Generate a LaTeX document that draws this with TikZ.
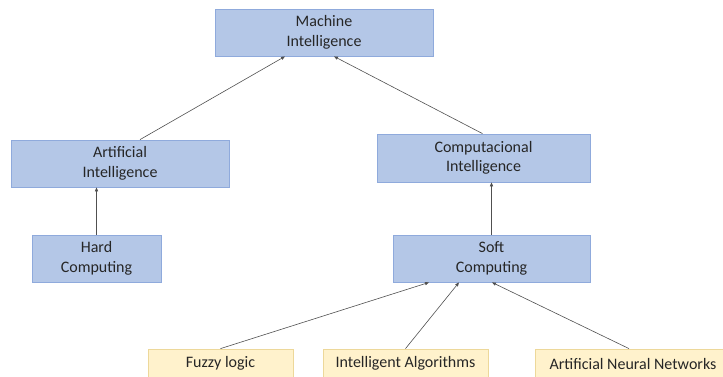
\documentclass[tikz,border=0pt]{standalone}
\usepackage{fontspec}
\setmainfont{Carlito}
\usetikzlibrary{arrows.meta}
\definecolor{bluefill}{HTML}{B4C7E7}
\definecolor{blueline}{HTML}{8FAADC}
\definecolor{yelfill}{HTML}{FFF2CC}
\definecolor{yelline}{HTML}{EDD89A}
\definecolor{arrowcol}{HTML}{505050}
\begin{document}
\begin{tikzpicture}[x=1pt,y=-1pt,
  bluebox/.style={draw=blueline,fill=bluefill,line width=0.8pt,minimum height=47pt,
    inner sep=0pt,align=center,font=\fontsize{16}{19.5}\selectfont,text=black!85},
  yelbox/.style={draw=yelline,fill=yelfill,line width=0.8pt,minimum height=29pt,
    inner sep=0pt,align=center,font=\fontsize{16}{19.5}\selectfont,text=black!85},
  conn/.style={draw=arrowcol,line width=0.6pt,-{Triangle[length=4pt,width=3.2pt]}}]
\useasboundingbox (0,0) rectangle (723,376);
\begin{scope}
\clip (0,0) rectangle (723,376);
\node[bluebox,minimum width=218pt] (MI) at (324,32.5) {Machine\\Intelligence};
\node[bluebox,minimum width=218pt] (AI) at (120,163.5) {Artificial\\Intelligence};
\node[bluebox,minimum width=129pt] (HC) at (96.5,258.5) {Hard\\Computing};
\node[bluebox,minimum width=213pt,minimum height=48pt] (CI) at (483.5,158) {Computacional\\Intelligence};
\node[bluebox,minimum width=197pt] (SC) at (491.5,258.5) {Soft\\Computing};
\node[yelbox,minimum width=145pt] (FL) at (220.5,363.5) {Fuzzy logic};
\node[yelbox,minimum width=165pt] (IA) at (405.5,363.5) {Intelligent Algorithms};
\node[yelbox,minimum width=196pt] (ANN) at (633,363.5) {Artificial Neural Networks};

\draw[conn] ([xshift=20pt]AI.north) -- ([xshift=-39pt]MI.south);
\draw[conn] ([xshift=-1pt]CI.north) -- ([xshift=10pt]MI.south);
\draw[conn] (HC.north) -- (HC.north |- AI.south);
\draw[conn] (SC.north) -- (SC.north |- CI.south);
\draw[conn] (FL.north) -- ([xshift=-62.5pt]SC.south);
\draw[conn] (IA.north) -- ([xshift=-32.5pt]SC.south);
\draw[conn] ([xshift=-4pt]ANN.north) -- ([xshift=0.5pt]SC.south);
\end{scope}
\end{tikzpicture}
\end{document}
